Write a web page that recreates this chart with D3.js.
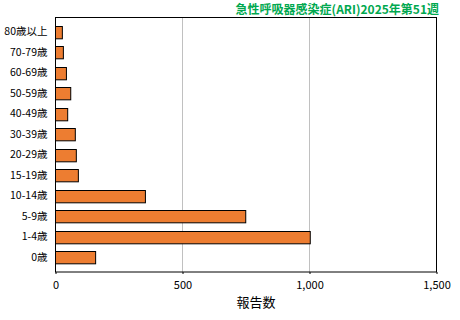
<!DOCTYPE html>
<html>
<head>
<meta charset="utf-8">
<script src="https://cdn.jsdelivr.net/npm/d3@7"></script>
<style>
  body { margin: 0; background: #fff; }
  text { font-family: "Noto Sans CJK JP", "DejaVu Sans", sans-serif; }
</style>
</head>
<body>
<div id="chart"></div>
<script>
// age groups, top to bottom
const ageGroups = ["80歳以上", "70-79歳", "60-69歳", "50-59歳", "40-49歳", "30-39歳",
                   "20-29歳", "15-19歳", "10-14歳", "5-9歳", "1-4歳", "0歳"]
const reports = [27, 31, 43, 60, 48, 78, 82, 90, 354, 749, 1003, 158]
const xTicks = [0, 500, 1000, 1500]
const title = "急性呼吸器感染症(ARI)2025年第51週"
const xLabel = "報告数"

const W = 460, H = 320
const margin = { top: 17.5, right: 23.5, bottom: 48, left: 55.5 }

const svg = d3.select("#chart").append("svg")
    .attr("width", W)
    .attr("height", H)

const x = d3.scaleLinear().domain([0, 1500]).range([margin.left, W - margin.right])
const y = d3.scaleBand().domain(ageGroups).range([margin.top, H - margin.bottom]).padding(0.4)

// gridlines
svg.append("g")
    .selectAll("line")
    .data(xTicks.slice(1, -1))
    .enter()
    .append("line")
        .attr("x1", d => x(d)).attr("x2", d => x(d))
        .attr("y1", margin.top).attr("y2", H - margin.bottom)
        .attr("stroke", "#c0c0c0")
        .attr("stroke-width", 1)

// bars
svg.append("g")
    .selectAll("rect")
    .data(reports)
    .enter()
    .append("rect")
        .attr("x", x(0))
        .attr("y", (d, i) => Math.round(y(ageGroups[i])) + 0.5)
        .attr("width", d => x(d) - x(0))
        .attr("height", y.bandwidth())
        .attr("fill", "#ed7d31")
        .attr("stroke", "#000")
        .attr("stroke-width", 1)

// plot frame
svg.append("rect")
    .attr("x", margin.left).attr("y", margin.top)
    .attr("width", x(1500) - x(0))
    .attr("height", H - margin.bottom - margin.top)
    .attr("fill", "none")
    .attr("stroke", "#000")
    .attr("stroke-width", 1)

// x axis
const xAxis = svg.append("g")
    .attr("transform", `translate(0,${H - margin.bottom})`)
    .call(d3.axisBottom(x).tickValues(xTicks).tickSize(2).tickPadding(7)
        .tickFormat(d3.format(",")))
xAxis.select(".domain").remove()
xAxis.selectAll("text").attr("font-size", 11).attr("fill", "#000")
    .style("font-family", "\"Noto Sans CJK JP\", sans-serif")

// y axis labels
const yAxis = svg.append("g")
    .attr("transform", `translate(${margin.left},0)`)
    .call(d3.axisLeft(y).tickSize(0).tickPadding(8))
yAxis.select(".domain").remove()
yAxis.selectAll("text").attr("font-size", 10.5).attr("fill", "#000")
    .style("font-family", "\"Noto Sans CJK JP\", sans-serif")

// axis title
svg.append("text")
    .attr("x", 256).attr("y", 307)
    .attr("text-anchor", "middle")
    .attr("font-size", 13)
    .text(xLabel)

// chart title
svg.append("text")
    .attr("x", 439).attr("y", 13.5)
    .attr("text-anchor", "end")
    .attr("font-size", 12)
    .attr("font-weight", "bold")
    .attr("fill", "#00a84f")
    .text(title)
</script>
</body>
</html>
